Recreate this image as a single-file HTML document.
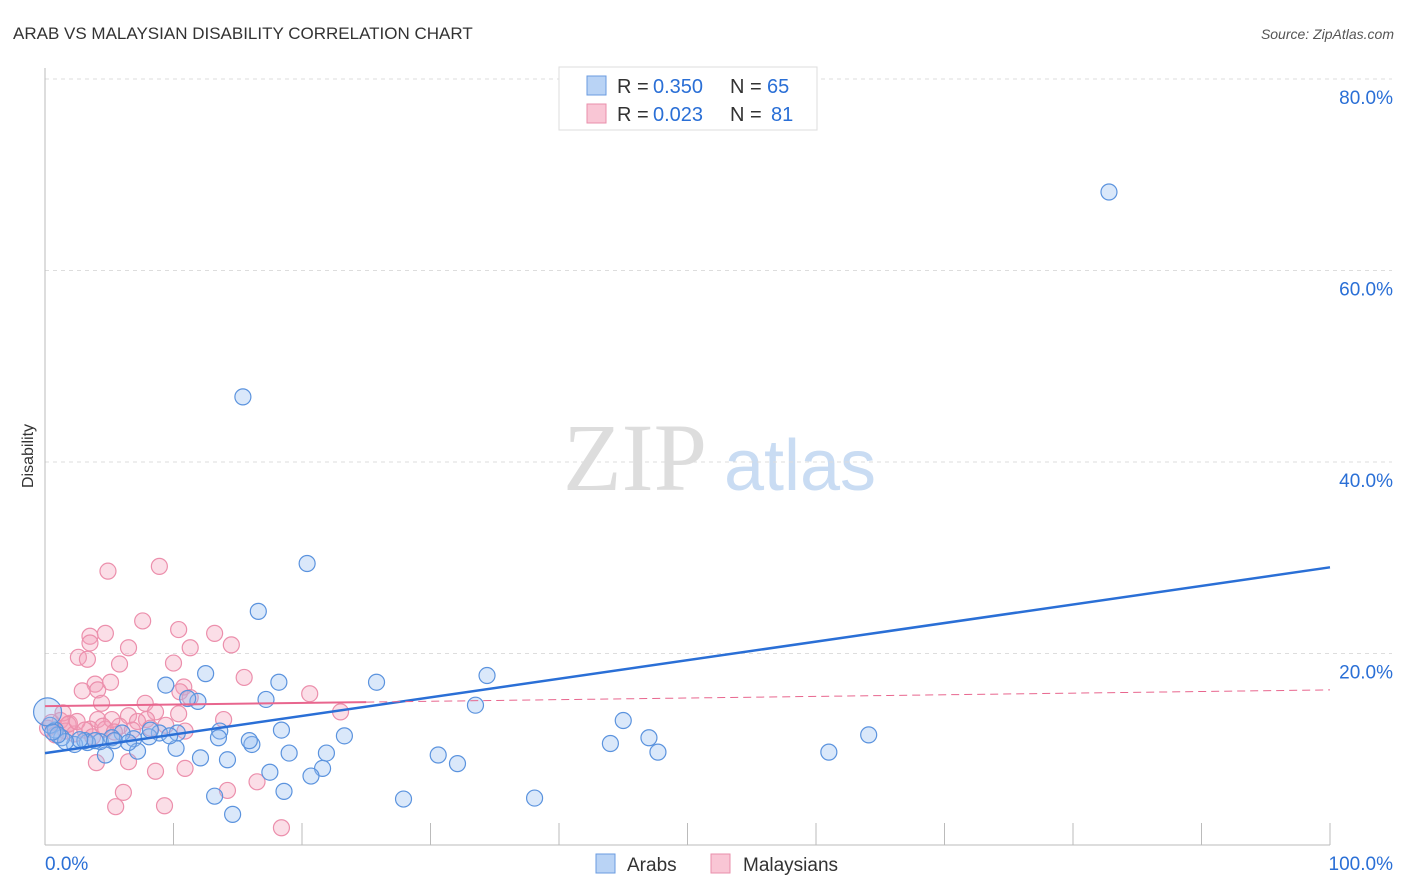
<!DOCTYPE html>
<html><head><meta charset="utf-8"><style>
body{margin:0;background:#fff;font-family:"Liberation Sans",sans-serif;}
svg{display:block}
</style></head><body>
<svg width="1406" height="892" xmlns="http://www.w3.org/2000/svg" id="chart">
<text x="13" y="39" font-size="17" fill="#333" font-family="Liberation Sans">ARAB VS MALAYSIAN DISABILITY CORRELATION CHART</text>
<text x="1394" y="39" font-size="14" fill="#555" text-anchor="end" font-style="italic">Source: ZipAtlas.com</text>
<text transform="translate(33,456) rotate(-90)" font-size="16" fill="#333" text-anchor="middle">Disability</text>
<g><text x="635" y="490" font-size="96" fill="#ddd" text-anchor="middle" font-family="Liberation Serif">ZIP</text><text x="800" y="490" font-size="72" fill="#c9dcf3" text-anchor="middle">atlas</text></g>
<g id="grid"></g><g id="pts"></g><g id="lines"></g>
<g>
<rect x="559" y="67" width="258" height="63" fill="#fff" stroke="#ddd"/>
<rect x="587" y="76" width="19" height="19" fill="#b9d3f5" stroke="#6a9be0"/>
<rect x="587" y="104" width="19" height="19" fill="#f9c6d5" stroke="#e98fab"/>
<text x="617" y="93" font-size="20" fill="#333">R =</text>
<text x="653" y="93" font-size="20" fill="#2a6fd6">0.350</text>
<text x="730" y="93" font-size="20" fill="#333">N =</text>
<text x="767" y="93" font-size="20" fill="#2a6fd6">65</text>
<text x="617" y="121" font-size="20" fill="#333">R =</text>
<text x="653" y="121" font-size="20" fill="#2a6fd6">0.023</text>
<text x="730" y="121" font-size="20" fill="#333">N =</text>
<text x="771" y="121" font-size="20" fill="#2a6fd6">81</text>
</g>
<g>
<rect x="596" y="854" width="19" height="19" fill="#b9d3f5" stroke="#6a9be0"/>
<text x="627" y="871" font-size="19" fill="#333">Arabs</text>
<rect x="711" y="854" width="19" height="19" fill="#f9c6d5" stroke="#e98fab"/>
<text x="743" y="871" font-size="19" fill="#333">Malaysians</text>
</g>
</svg>
<script>
const yTicks=[20,40,60,80];
const xTickLabels=["0.0%","100.0%"];
const arabX=[82.8,15.4,20.4,16.6,12.5,9.4,18.2,17.2,25.8,34.4,11.9,11.1,33.5,45.0,64.1,44.0,47.0,47.7,61.0,30.6,32.1,23.3,18.4,21.9,19.0,21.6,20.7,17.5,16.1,15.9,13.6,13.5,14.2,12.1,10.2,10.3,8.9,8.1,6.9,7.2,6.0,5.2,4.7,4.3,3.3,2.3,1.3,0.8,0.4,0.2,3.1,13.2,14.6,18.6,27.9,38.1,8.2,9.7,5.4,6.5,3.9,2.7,1.6,1.0,0.6];
const arabY=[68.2,46.8,29.4,24.4,17.9,16.7,17.0,15.2,17.0,17.7,15.0,15.3,14.6,13.0,11.5,10.6,11.2,9.7,9.7,9.4,8.5,11.4,12.0,9.6,9.6,8.0,7.2,7.6,10.5,10.9,11.9,11.2,8.9,9.1,10.1,11.7,11.7,11.3,11.1,9.8,11.7,11.2,9.4,10.8,10.7,10.5,11.2,12.0,12.5,13.9,10.9,5.1,3.2,5.6,4.8,4.9,12.0,11.4,10.9,10.7,10.9,11.0,10.8,11.5,11.8];
const malX=[4.9,8.9,7.6,10.4,4.7,3.5,3.5,13.2,14.5,11.3,2.6,3.3,6.5,5.8,10.0,3.9,4.1,5.1,15.5,10.8,10.5,20.6,11.3,7.8,2.9,4.4,23.0,8.6,13.9,7.9,6.5,4.1,5.8,4.7,3.5,1.9,1.2,0.5,1.6,2.3,10.9,10.4,7.2,4.0,6.5,8.6,10.9,6.1,14.2,16.5,5.5,9.3,18.4,5.2,1.4,0.2,0.8,1.8,2.5,3.1,3.7,4.5,5.4,6.8,8.2,9.4];
const malY=[28.6,29.1,23.4,22.5,22.1,21.8,21.1,22.1,20.9,20.6,19.6,19.4,20.6,18.9,19.0,16.8,16.2,17.0,17.5,16.5,16.0,15.8,15.4,14.8,16.1,14.8,13.9,13.9,13.1,13.1,13.5,13.1,12.4,12.1,12.1,12.7,13.0,12.8,11.9,11.6,11.9,13.7,12.9,8.6,8.7,7.7,8.0,5.5,5.7,6.6,4.0,4.1,1.8,13.1,13.8,12.2,11.5,12.6,12.9,12.0,11.3,12.4,11.8,12.0,12.2,12.5];
const arabTrend=[9.6,29.0];
const malTrend=[14.5,16.2];
const NS="http://www.w3.org/2000/svg";
const X0=45,X1=1330,YB=845,YT=79;
const sx=v=>X0+v/100*(X1-X0);
const sy=v=>YB-v/80*(YB-YT);
function mk(t,a,p){const e=document.createElementNS(NS,t);for(const k in a)e.setAttribute(k,a[k]);p.appendChild(e);return e;}
const g=document.getElementById('grid');
yTicks.forEach(t=>{
 const l=mk('line',{x1:X0,x2:1392,y1:sy(t),y2:sy(t),stroke:'#ddd','stroke-dasharray':'4,4'},g);
 
 
 const tx=mk('text',{x:1393,y:sy(t)+25,'font-size':19,fill:'#2a6fd6','text-anchor':'end'},g);
 tx.textContent=t.toFixed(1)+'%';
 
 
});
mk('line',{x1:X0,x2:X0,y1:68,y2:YB,stroke:'#bbb'},g);
mk('line',{x1:X0,x2:X1,y1:YB,y2:YB,stroke:'#bbb'},g);
for(let i=1;i<=10;i++){const x=sx(i*10);mk('line',{x1:x,x2:x,y1:823,y2:YB,stroke:'#bbb'},g);}
const xl=mk('text',{x:45,y:870,'font-size':19,fill:'#2a6fd6'},g);xl.textContent=xTickLabels[0];


const xr=mk('text',{x:1393,y:870,'font-size':19,fill:'#2a6fd6','text-anchor':'end'},g);xr.textContent=xTickLabels[1];


const p=document.getElementById('pts');
malX.forEach((v,i)=>{const c=mk('circle',{cx:sx(v),cy:sy(malY[i]),r:8,fill:'rgba(244,160,185,0.35)',stroke:'#ec8fac','stroke-width':1.2},p);
 
 });
arabX.forEach((v,i)=>{const c=mk('circle',{cx:sx(v),cy:sy(arabY[i]),r:i==arabX.length-16?14:8,fill:'rgba(150,190,240,0.35)',stroke:'#5b93de','stroke-width':1.2},p);
 
 });
const L=document.getElementById('lines');
const bl=mk('line',{x1:sx(0),y1:sy(arabTrend[0]),x2:sx(100),y2:sy(arabTrend[1]),stroke:'#2a6fd6','stroke-width':2.5},L);


const mAt=x=>malTrend[0]+(malTrend[1]-malTrend[0])*x/100;
const pl=mk('line',{x1:sx(0),y1:sy(mAt(0)),x2:sx(25),y2:sy(mAt(25)),stroke:'#e8668e','stroke-width':2},L);


const pd=mk('line',{x1:sx(25),y1:sy(mAt(25)),x2:sx(100),y2:sy(mAt(100)),stroke:'#e8668e','stroke-width':1,'stroke-dasharray':'8,5'},L);


</script>
</body></html>
